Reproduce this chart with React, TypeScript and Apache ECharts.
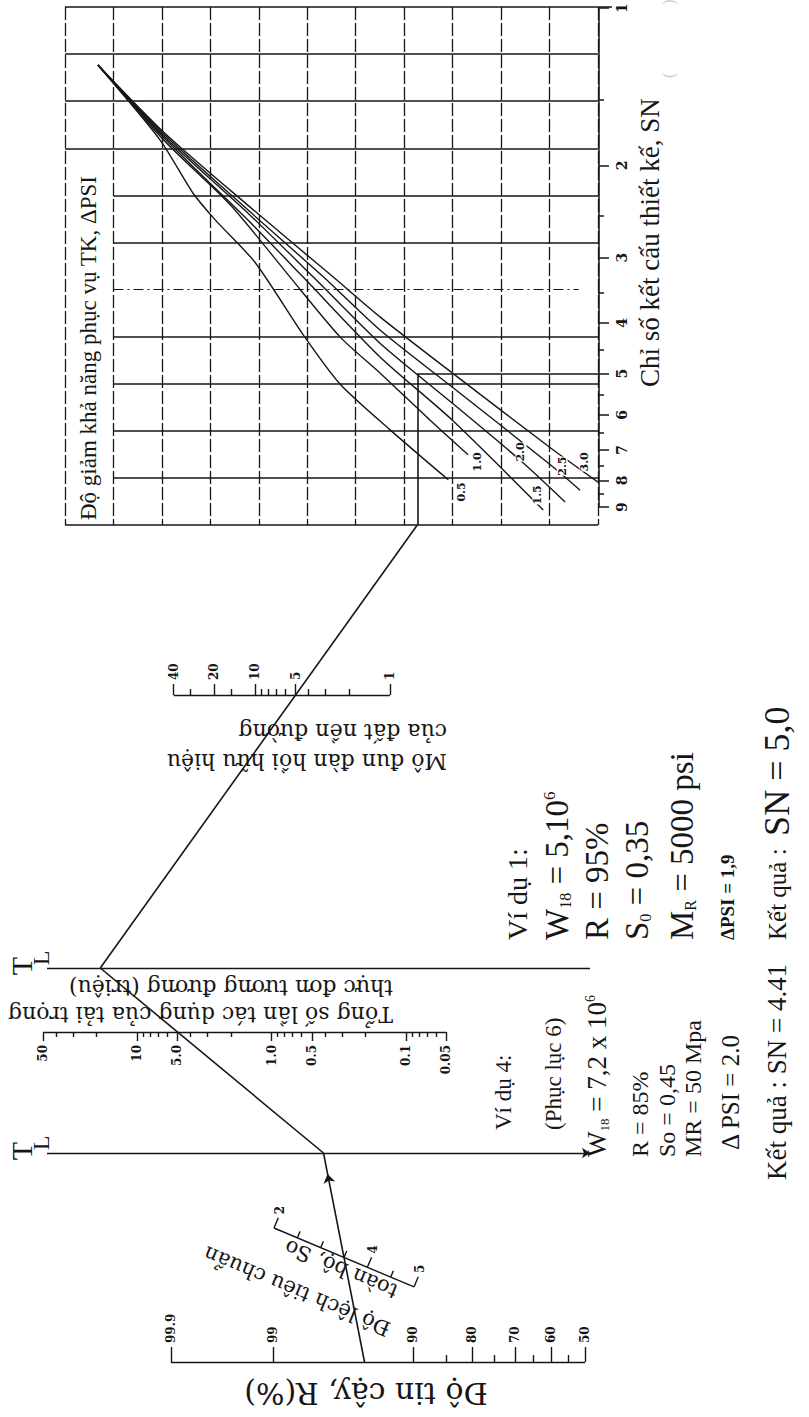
import React, { useEffect, useRef } from "react";
import * as echarts from "echarts";

const PAGE_W = 809;
const PAGE_H = 1417;

// ---------------- DATA ----------------
// Design chart (grid units: column, row of the 11 x 11 chart grid)
const gridColumns = 11;
const gridRows = 11;
const dashDotRow = 6;

const snTicks = [1, 2, 3, 4, 5, 6, 7, 8, 9];
const snMinorTicks = [1.5, 2.5, 3.5, 4.5, 5.5, 6.5, 7.5, 8.5];

const dpsiNames = ["0.5", "1.0", "1.5", "2.0", "2.5", "3.0"];
const curveDpsi05 = [[0.68, 1.23], [1.96, 2.82], [2.64, 3.95], [3.1, 4.52], [3.92, 5.42], [4.95, 7.01], [5.68, 8.01], [6.71, 8.98], [7.91, 10.04]];
const curveDpsi10 = [[0.68, 1.23], [2.06, 2.85], [3.41, 4.2], [4.64, 5.73], [5.68, 7.01], [6.5, 7.77], [7.53, 8.77], [8.32, 9.51]];
const curveDpsi15 = [[0.68, 1.23], [2.06, 2.8], [3.82, 4.57], [4.91, 5.73], [6.5, 7.43], [7.99, 8.77], [9.87, 10.68]];
const curveDpsi20 = [[0.68, 1.23], [2.06, 2.76], [3.82, 4.42], [5.12, 5.73], [6.5, 7.14], [7.99, 8.41], [9.39, 9.62], [10.32, 10.51]];
const curveDpsi25 = [[0.68, 1.23], [2.06, 2.72], [3.82, 4.35], [5.33, 5.73], [6.5, 6.86], [7.99, 8.07], [10.03, 9.73], [10.63, 10.26]];
const curveDpsi30 = [[0.68, 1.23], [2.06, 2.68], [3.82, 4.25], [5.53, 5.73], [6.5, 6.58], [7.99, 7.77], [10.03, 9.37], [11.0, 10.09]];

// Nomograph scales
const w18Ticks = [50, 10, 5, 1, 0.5, 0.1, 0.05];
const w18TickLabels = ["50", "10", "5.0", "1.0", "0.5", "0.1", "0.05"];
const w18MinorTicks = [40, 30, 20, 9, 8, 7, 6, 4, 3, 2, 0.9, 0.8, 0.7, 0.6, 0.4, 0.3, 0.2, 0.09, 0.08, 0.07, 0.06];

const mrTicks = [40, 20, 10, 5, 1];
const mrMinorTicks = [30, 15, 9, 8, 7, 6, 4, 3, 2];

const rTicks = [99.9, 99, 90, 80, 70, 60, 50];
const rMinorTicks = [85, 75, 65, 55];

const soTicks = [0.2, 0.25, 0.3, 0.35, 0.4, 0.45, 0.5];
const soLabelled = [0.2, 0.4, 0.5];
const soLabelText = ["2", "4", "5"];

// Worked example 1 (the drawn solution path)
const ex1R = 95;
const ex1So = 0.35;
const ex1W18 = 5;
const ex1MR = 5;
const ex1SN = 5;

// ---------------- LAYOUT (page pixels) ----------------
const G = { x0: 65, x1: 598, y0: 7, y1: 525 };
const colX = (c: number) => G.x0 + ((G.x1 - G.x0) * c) / gridColumns;
const rowY = (r: number) => G.y0 + ((G.y1 - G.y0) * r) / gridRows;
const snY = (v: number) => 8 + 523 * Math.log10(v);
const W18_Y = 1032;
const w18X = (v: number) => 137 - 134.5 * (Math.log10(v) - 1);
const MR_Y = 695;
const mrX = (v: number) => 390 - 135 * Math.log10(v);
const R_Y = 1362;
function probit(p: number) {
  const q = p < 0.5 ? p : 1 - p;
  const t = Math.sqrt(-2 * Math.log(q));
  const z = t - (2.515517 + 0.802853 * t + 0.010328 * t * t) / (1 + 1.432788 * t + 0.189269 * t * t + 0.001308 * t * t * t);
  return p < 0.5 ? -z : z;
}
const rX = (v: number) => 585 - 134 * probit(v / 100);
const SO_SLOPE = 0.421;
const soPt = (v: number): number[] => {
  const x = 274 + (v - 0.2) * 466.7;
  return [x, 1228 + (x - 274) * SO_SLOPE];
};
const SO_LEN = Math.sqrt(1 + SO_SLOPE * SO_SLOPE);
const soNormal = [SO_SLOPE / SO_LEN, -1 / SO_LEN];
const TL_UP_Y = 968;
const TL_LOW_Y = 1153;
const TL_X0 = 47;
const TL_X1 = 590;

const INK = "#161616";
const UP = Math.PI / 2;
const FLIP = Math.PI;

const extendTo = (a: number[], b: number[], y: number) => {
  const t = (y - a[1]) / (b[1] - a[1]);
  return [a[0] + (b[0] - a[0]) * t, y];
};
const seg = (a: number[], b: number[]) => ({ coords: [a, b] });

function linesSeries(data: any[], style: any = {}, extra: any = {}) {
  return {
    type: "lines",
    coordinateSystem: "cartesian2d",
    polyline: false,
    silent: true,
    z: 3,
    data,
    lineStyle: { color: INK, width: 1.3, opacity: 1, ...style },
    ...extra,
  };
}

function txt(x: number, y: number, text: string, font: string, rotation = UP, align = "left", extra: any = {}) {
  return {
    type: "text",
    x,
    y,
    rotation,
    silent: true,
    z: 10,
    style: { text, font, fill: INK, align, verticalAlign: "middle", ...extra },
  };
}

function richTxt(x: number, y: number, text: string, base: number, fam: string, rotation = UP, align = "left", weight = "normal") {
  return {
    type: "text",
    x,
    y,
    rotation,
    silent: true,
    z: 10,
    style: {
      text,
      align,
      verticalAlign: "middle",
      fill: INK,
      rich: {
        n: { fontSize: base, fontFamily: fam, fill: INK, fontWeight: weight },
        m: { fontSize: Math.round(base * 0.7), fontFamily: fam, fill: INK, fontWeight: weight },
        s: { fontSize: Math.round(base * 0.48), fontFamily: fam, fill: INK, verticalAlign: "bottom", fontWeight: weight },
        p: { fontSize: Math.round(base * 0.52), fontFamily: fam, fill: INK, verticalAlign: "top", fontWeight: weight },
      },
    },
  };
}

function buildOption() {
  // ---- design chart grid ----
  const vLines: any[] = [];
  for (let c = 0; c <= gridColumns; c++) vLines.push(seg([colX(c), G.y0], [colX(c), G.y1]));
  const hLines: any[] = [];
  for (let r = 0; r <= gridRows; r++) {
    if (r === dashDotRow) continue;
    const xs = r <= 3 || r === gridRows ? colX(0) : colX(1);
    const xe = r === 0 ? G.x1 + 14 : colX(gridColumns);
    hLines.push(seg([xs, rowY(r)], [xe, rowY(r)]));
  }
  const ddLines = [seg([colX(1), rowY(dashDotRow)], [colX(10.6), rowY(dashDotRow)])];

  // ---- SN axis ----
  const snAxis: any[] = [seg([G.x1 + 1, snY(1)], [G.x1 + 1, snY(9)])];
  snTicks.forEach((v) => snAxis.push(seg([G.x1, snY(v)], [G.x1 + 11, snY(v)])));
  snMinorTicks.forEach((v) => snAxis.push(seg([G.x1, snY(v)], [G.x1 + 6, snY(v)])));

  // ---- curves ----
  const curves = [curveDpsi05, curveDpsi10, curveDpsi15, curveDpsi20, curveDpsi25, curveDpsi30];
  const curveSeries = curves.map((cv, i) => ({
    type: "line",
    name: dpsiNames[i],
    data: cv.map(([c, r]) => [colX(c), rowY(r)]),
    showSymbol: false,
    smooth: 0.25,
    silent: true,
    z: 4,
    lineStyle: { color: INK, width: 1.4 },
  }));

  // ---- scales ----
  const scaleLines: any[] = [];
  scaleLines.push(seg([w18X(50), W18_Y], [w18X(0.05), W18_Y]));
  w18Ticks.forEach((v) => scaleLines.push(seg([w18X(v), W18_Y], [w18X(v), W18_Y + 9])));
  w18MinorTicks.forEach((v) => scaleLines.push(seg([w18X(v), W18_Y], [w18X(v), W18_Y + 5])));

  scaleLines.push(seg([mrX(40), MR_Y], [mrX(1), MR_Y]));
  mrTicks.forEach((v) => scaleLines.push(seg([mrX(v), MR_Y], [mrX(v), MR_Y - 11])));
  mrMinorTicks.forEach((v) => scaleLines.push(seg([mrX(v), MR_Y], [mrX(v), MR_Y - 6])));

  scaleLines.push(seg([rX(99.9), R_Y], [rX(50), R_Y]));
  rTicks.forEach((v) => scaleLines.push(seg([rX(v), R_Y], [rX(v), R_Y - 15])));
  rMinorTicks.forEach((v) => scaleLines.push(seg([rX(v), R_Y], [rX(v), R_Y - 7])));

  scaleLines.push(seg(soPt(0.2), soPt(0.5)));
  soTicks.forEach((v) => {
    const p = soPt(v);
    const len = soLabelled.indexOf(v) >= 0 ? 11 : 7;
    scaleLines.push(seg(p, [p[0] + soNormal[0] * len, p[1] + soNormal[1] * len]));
  });

  scaleLines.push(seg([TL_X0, TL_UP_Y], [TL_X1, TL_UP_Y]));

  // ---- example path ----
  const pR = [rX(ex1R), R_Y];
  const pSo = soPt(ex1So);
  const pTL2 = extendTo(pR, pSo, TL_LOW_Y);
  const pW = [w18X(ex1W18), W18_Y];
  const pTL1 = extendTo(pTL2, pW, TL_UP_Y);
  const pMR = [mrX(ex1MR), MR_Y];
  const pBottom = extendTo(pTL1, pMR, G.y1);
  const pTurn = [pBottom[0], snY(ex1SN)];
  const pSN = [G.x1, snY(ex1SN)];
  const pArrow = [pTL2[0] + (pR[0] - pTL2[0]) * 0.1, pTL2[1] + (pR[1] - pTL2[1]) * 0.1];

  const pathLines = [seg(pArrow, pTL2), seg(pTL2, pTL1), seg(pTL1, pBottom), seg(pBottom, pTurn), seg(pTurn, pSN)];

  const series: any[] = [
    linesSeries(vLines, { width: 1.3, type: [13, 3] }),
    linesSeries(hLines, { width: 1.5 }),
    linesSeries(ddLines, { width: 1.2, type: [10, 4, 2, 4] }),
    linesSeries(snAxis, { width: 1.5 }),
    ...curveSeries,
    linesSeries(scaleLines, { width: 1.4 }),
    linesSeries([seg([TL_X0, TL_LOW_Y], [TL_X1, TL_LOW_Y])], { width: 1.4 }, { symbol: ["none", "arrow"], symbolSize: 8 }),
    linesSeries(pathLines, { width: 1.6 }),
    linesSeries([seg(pR, pArrow)], { width: 1.6 }, { symbol: ["none", "arrow"], symbolSize: 9 }),
  ];

  // ---- texts ----
  const numFont = (s: number) => `bold ${s}px "DejaVu Serif"`;
  const g: any[] = [];
  snTicks.forEach((v) => g.push(txt(622, snY(v), String(v), numFont(14), UP, "center")));
  w18Ticks.forEach((v, i) => g.push(txt(w18X(v), W18_Y + 13, w18TickLabels[i], numFont(12), UP, "right")));
  mrTicks.forEach((v) => g.push(txt(mrX(v), MR_Y - 15, String(v), numFont(12), UP, "left")));
  rTicks.forEach((v) => g.push(txt(rX(v), R_Y - 19, String(v), numFont(12), UP, "left")));
  soLabelled.forEach((v, i) => {
    const p = soPt(v);
    g.push(txt(p[0] + soNormal[0] * 15, p[1] + soNormal[1] * 15, soLabelText[i], numFont(12), UP, "left"));
  });
  const dpsiLabelAt = [[8.19, 10.3], [8.52, 9.66], [9.76, 10.36], [9.41, 9.45], [10.26, 9.75], [10.73, 9.66]];
  dpsiNames.forEach((n, i) => g.push(txt(colX(dpsiLabelAt[i][0]), rowY(dpsiLabelAt[i][1]), n, numFont(11), UP, "center", { backgroundColor: "#fff" })));

  const serif = '"Liberation Serif"';
  const wide = '"DejaVu Serif"';
  // axis titles of the design chart
  g.push(txt(88, 520, "Độ giảm khả năng phục vụ TK, ΔPSI", `23px ${serif}`, UP, "left"));
  g.push(txt(650, 387, "Chỉ số kết cấu thiết kế, SN", `27px ${serif}`, UP, "left"));
  g.push(txt(668, 78, "(                 )", `16px ${serif}`, UP, "left", { fill: "#cfcfcf" }));

  // upside-down scale titles
  g.push(txt(447, 761, "Mô đun đàn hồi hữu hiệu", `22px ${wide}`, FLIP, "left"));
  g.push(txt(447, 731, "của đất nền đường", `22px ${wide}`, FLIP, "left"));
  g.push(txt(393, 1014, "Tổng số lần tác dụng của tải trọng", `22px ${wide}`, FLIP, "left"));
  g.push(txt(393, 987, "thực đơn tương đương (triệu)", `22px ${wide}`, FLIP, "left"));
  g.push(txt(366, 1393, "Độ tin cậy, R(%)", `30px ${wide}`, FLIP, "center"));
  const soRot = Math.PI - Math.atan(SO_SLOPE);
  g.push(txt(297, 1291, "Độ lệch tiêu chuẩn", `21px ${wide}`, soRot, "center"));
  g.push(txt(341, 1269, "toàn bộ, So", `21px ${wide}`, soRot, "center"));

  // T_L marks
  [TL_UP_Y, TL_LOW_Y].forEach((y) => {
    g.push(txt(21, y - 2, "T", `30px ${serif}`, UP, "center"));
    g.push(txt(41, y - 10, "L", `24px ${serif}`, UP, "center"));
  });

  // Example 1
  const e1y = 940;
  g.push(txt(517, e1y, "Ví dụ 1:", `28px ${serif}`, UP, "left"));
  g.push(richTxt(557, e1y, "{n|W}{s|18}{n| = 5,10}{p|6}", 33, serif));
  g.push(richTxt(597, e1y, "{n|R = 95%}", 33, serif));
  g.push(richTxt(637, e1y, "{n|S}{s|0}{n| = 0,35}", 33, serif));
  g.push(richTxt(682, e1y, "{n|M}{s|R}{n| = 5000 psi}", 33, serif));
  g.push(txt(727, e1y, "ΔPSI = 1,9", `bold 19px ${serif}`, UP, "left"));
  g.push(richTxt(777, e1y, "{m|Kết quả :  }{n|SN = 5,0}", 36, serif));

  // Example 4
  g.push(txt(503, 1130, "Ví dụ 4:", `23px ${serif}`, UP, "left"));
  g.push(txt(553, 1130, "(Phục lục 6)", `23px ${serif}`, UP, "left"));
  g.push(richTxt(597, 1157, "{n|W}{s|18}{n| = 7,2 x 10}{p|6}", 27, serif));
  g.push(txt(640, 1157, "R = 85%", `24px ${serif}`, UP, "left"));
  g.push(txt(667, 1157, "So = 0,45", `24px ${serif}`, UP, "left"));
  g.push(txt(693, 1157, "MR = 50 Mpa", `24px ${serif}`, UP, "left"));
  g.push(txt(730, 1150, "Δ PSI = 2.0", `25px ${serif}`, UP, "left"));
  g.push(txt(777, 1180, "Kết quả : SN = 4.41", `27px ${serif}`, UP, "left"));

  return {
    animation: false,
    backgroundColor: "#ffffff",
    grid: { left: 0, top: 0, width: PAGE_W, height: PAGE_H, containLabel: false },
    xAxis: { type: "value", min: 0, max: PAGE_W, show: false },
    yAxis: { type: "value", min: 0, max: PAGE_H, inverse: true, show: false },
    series,
    graphic: { elements: g },
  };
}

export default function App() {
  const ref = useRef<HTMLDivElement>(null);
  useEffect(() => {
    document.body.style.margin = "0";
    const chart = echarts.init(ref.current as HTMLDivElement, null, { renderer: "svg", width: PAGE_W, height: PAGE_H });
    chart.setOption(buildOption() as any);
    return () => chart.dispose();
  }, []);
  return <div ref={ref} style={{ width: PAGE_W, height: PAGE_H, background: "#fff" }} />;
}
